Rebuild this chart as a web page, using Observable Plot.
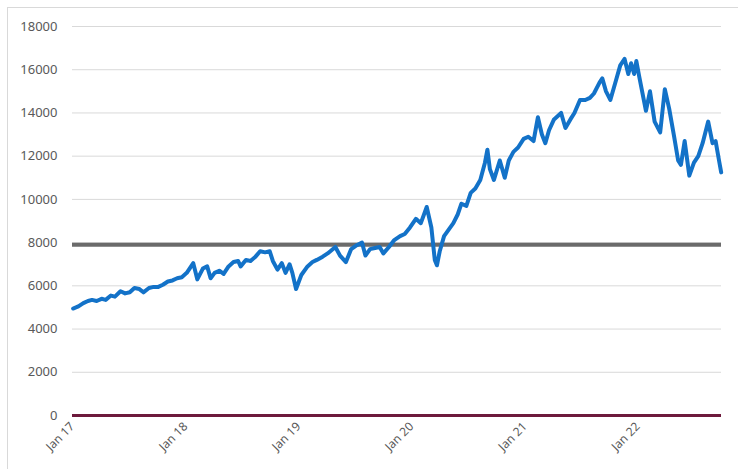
<!DOCTYPE html>
<html>
<head>
<meta charset="utf-8">
<script src="https://cdn.jsdelivr.net/npm/d3@7"></script>
<script src="https://cdn.jsdelivr.net/npm/@observablehq/plot@0.6"></script>
<style>
  html, body { margin: 0; padding: 0; background: #fff; }
  #wrap { position: relative; width: 738px; height: 469px; overflow: hidden; }
  #border { position: absolute; left: 7px; top: 7px; width: 740px; height: 480px; border: 1px solid #d9d9d9; box-sizing: border-box; }
  #chart { position: absolute; left: 0; top: 0; }
</style>
</head>
<body>
<div id="wrap"><div id="border"></div><div id="chart"></div></div>
<script>
const dates = ["2017-01-03","2017-01-12","2017-01-20","2017-02-05","2017-02-20","2017-03-05","2017-03-20","2017-04-05","2017-04-18","2017-05-05","2017-05-18","2017-06-05","2017-06-20","2017-07-05","2017-07-20","2017-08-05","2017-08-18","2017-09-05","2017-09-20","2017-10-05","2017-10-20","2017-11-05","2017-11-20","2017-12-05","2017-12-20",
"2018-01-05","2018-01-26","2018-02-08","2018-02-26","2018-03-12","2018-03-23","2018-04-05","2018-04-20","2018-05-04","2018-05-20","2018-06-05","2018-06-20","2018-06-28","2018-07-15","2018-07-30","2018-08-15","2018-08-30","2018-09-15","2018-09-30","2018-10-10","2018-10-25","2018-11-08","2018-11-20","2018-12-03","2018-12-12","2018-12-24",
"2019-01-10","2019-01-30","2019-02-15","2019-03-01","2019-03-20","2019-04-05","2019-04-30","2019-05-15","2019-06-03","2019-06-20","2019-07-05","2019-07-25","2019-08-05","2019-08-20","2019-09-05","2019-09-20","2019-10-02","2019-10-20","2019-11-05","2019-11-25","2019-12-10","2019-12-27",
"2020-01-15","2020-01-31","2020-02-19","2020-03-05","2020-03-16","2020-03-23","2020-04-01","2020-04-15","2020-04-30","2020-05-15","2020-05-29","2020-06-10","2020-06-26","2020-07-10","2020-07-25","2020-08-10","2020-08-25","2020-09-02","2020-09-10","2020-09-23","2020-10-12","2020-10-28","2020-11-10","2020-11-25","2020-12-10","2020-12-28",
"2021-01-12","2021-01-29","2021-02-12","2021-02-25","2021-03-08","2021-03-20","2021-04-05","2021-04-28","2021-05-12","2021-05-28","2021-06-10","2021-06-28","2021-07-15","2021-07-30","2021-08-12","2021-08-30","2021-09-08","2021-09-20","2021-10-04","2021-10-20","2021-11-05","2021-11-19","2021-12-01","2021-12-10","2021-12-20","2021-12-27",
"2022-01-05","2022-01-27","2022-02-09","2022-02-24","2022-03-14","2022-03-29","2022-04-12","2022-04-28","2022-05-11","2022-05-20","2022-06-01","2022-06-16","2022-07-01","2022-07-15","2022-07-29","2022-08-16","2022-08-30","2022-09-09","2022-09-20","2022-09-27"];
const values = [4950,5000,5050,5200,5300,5350,5300,5400,5350,5550,5500,5750,5650,5700,5900,5850,5700,5900,5950,5950,6050,6200,6250,6350,6400,
6600,7050,6300,6800,6900,6350,6600,6700,6550,6900,7100,7150,6900,7200,7150,7350,7600,7550,7600,7150,6750,7050,6600,7000,6600,5850,
6500,6900,7100,7200,7350,7500,7800,7400,7100,7700,7850,8000,7400,7700,7750,7800,7500,7800,8100,8300,8400,8700,
9100,8900,9650,8700,7200,6950,7600,8300,8600,8900,9300,9800,9700,10300,10500,10900,11700,12300,11400,10900,11800,11000,11800,12200,12400,12800,
12900,12700,13800,13000,12600,13200,13700,14000,13300,13700,14000,14600,14600,14700,14900,15400,15600,15000,14600,15400,16200,16500,15800,16300,15800,16400,
15700,14100,15000,13600,13100,15100,14200,12900,11800,11600,12700,11100,11700,12000,12600,13600,12600,12700,11800,11250];
const referenceLevel = [7900];
const zeroLevel = [0];
const yTicks = [0,2000,4000,6000,8000,10000,12000,14000,16000,18000];
const xTicks = ["2017-01-01","2018-01-01","2019-01-01","2020-01-01","2021-01-01","2022-01-01"];

const parse = d3.utcParse("%Y-%m-%d");
const series = dates.map((d, i) => ({date: parse(d), value: values[i]}));

const chart = Plot.plot({
  width: 738,
  height: 469,
  marginLeft: 72,
  marginRight: 17,
  marginTop: 26,
  marginBottom: 54,
  style: {fontFamily: "'Noto Sans', sans-serif", fontSize: "13px", color: "#595959", background: "transparent"},
  x: {type: "utc", domain: [parse("2017-01-01"), parse("2022-09-28")], label: null},
  y: {domain: [0, 18000], label: null},
  marks: [
    Plot.gridY(yTicks, {stroke: "#d9d9d9", strokeOpacity: 1, strokeWidth: 1}),
    Plot.axisY(yTicks, {tickFormat: d3.format("d"), tickSize: 0, tickPadding: 15, fill: "#595959", fontSize: 13}),
    Plot.axisX(xTicks.map(parse), {tickFormat: d3.utcFormat("%b %y"), tickRotate: -45, tickSize: 0, tickPadding: 9, fill: "#595959", fontSize: 12}),
    Plot.ruleY(referenceLevel, {stroke: "#6b6b6b", strokeWidth: 4}),
    Plot.ruleY(zeroLevel, {stroke: "#6d1a3c", strokeWidth: 3}),
    Plot.line(series, {x: "date", y: "value", stroke: "#1372c8", strokeWidth: 4, strokeLinejoin: "round"})
  ]
});
document.getElementById("chart").appendChild(chart);
</script>
</body>
</html>
